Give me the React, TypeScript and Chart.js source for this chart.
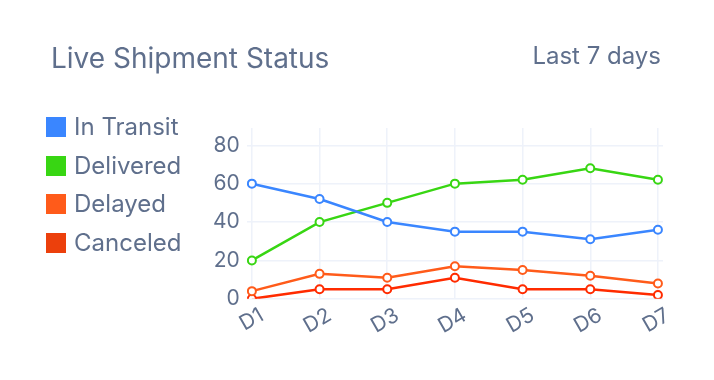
import React, { useEffect, useRef } from "react";
import { Chart, registerables } from "chart.js";

Chart.register(...registerables);

const categories = ["D1", "D2", "D3", "D4", "D5", "D6", "D7"];
const seriesNames = ["In Transit", "Delivered", "Delayed", "Canceled"];
const inTransit = [60, 52, 40, 35, 35, 31, 36];
const delivered = [20, 40, 50, 60, 62, 68, 62];
const delayed = [4, 13, 11, 17, 15, 12, 8];
const canceled = [0, 5, 5, 11, 5, 5, 2];
const lineColors = ["#3a86ff", "#38d613", "#ff5b1a", "#ff2b00"];
const legendColors = ["#3a86ff", "#38d613", "#ff5b1a", "#ec400c"];
const yTicks = [0, 20, 40, 60, 80];
const title = "Live Shipment Status";
const rangeLabel = "Last 7 days";

const TEXT = "#5f6f8c";
const FONT = "Inter, 'Noto Sans', sans-serif";

export default function App() {
  const ref = useRef<HTMLCanvasElement>(null);
  useEffect(() => {
    if (!ref.current) return;
    const all = [inTransit, delivered, delayed, canceled];
    const chart = new Chart(ref.current, {
      type: "line",
      data: {
        datasets: all.map((arr, i) => ({
          label: seriesNames[i],
          data: arr.map((v, j) => ({ x: j, y: v })),
          borderColor: lineColors[i],
          backgroundColor: "#ffffff",
          pointBackgroundColor: "#ffffff",
          pointBorderColor: lineColors[i],
          pointBorderWidth: 2,
          pointRadius: 4,
          borderWidth: 2.5,
          tension: 0,
        })),
      },
      options: {
        responsive: false,
        animation: false,
        layout: { padding: { left: 206, top: 128, right: 51, bottom: 37 } },
        plugins: { legend: { display: false }, tooltip: { enabled: false } },
        scales: {
          x: {
            type: "linear",
            min: -0.075,
            max: categories.length - 1 + 0.075,
            afterBuildTicks: (s: any) => {
              s.ticks = categories.map((_, i) => ({ value: i }));
            },
            ticks: {
              autoSkip: false,
              maxRotation: 30,
              minRotation: 30,
              labelOffset: 10,
              padding: 4,
              color: TEXT,
              font: { family: FONT, size: 21 },
              callback: (v: any) => categories[Math.round(Number(v))],
            },
            grid: { color: "#eef2fa", drawTicks: false, lineWidth: 1.5 },
            border: { display: false },
          },
          y: {
            min: 0,
            max: 89,
            afterBuildTicks: (s: any) => {
              s.ticks = yTicks.map((v) => ({ value: v }));
            },
            ticks: {
              padding: 7,
              color: TEXT,
              font: { family: FONT, size: 21 },
            },
            grid: { color: "#eef2fa", drawTicks: false, lineWidth: 1.5 },
            border: { display: false },
          },
        },
      },
    });
    return () => chart.destroy();
  }, []);

  return (
    <div
      style={{
        position: "absolute",
        left: 0,
        top: 0,
        width: 714,
        height: 380,
        background: "#ffffff",
        fontFamily: FONT,
        color: TEXT,
        overflow: "hidden",
      }}
    >
      <canvas ref={ref} width={714} height={380} style={{ position: "absolute", left: 0, top: 0 }} />
      <div style={{ position: "absolute", left: 51, top: 44, fontSize: 28, lineHeight: 1, whiteSpace: "nowrap" }}>
        {title}
      </div>
      <div style={{ position: "absolute", right: 53, top: 44, fontSize: 24, lineHeight: 1, whiteSpace: "nowrap" }}>
        {rangeLabel}
      </div>
      {seriesNames.map((name, i) => (
        <div
          key={name}
          style={{
            position: "absolute",
            left: 46,
            top: 117 + i * 38.7,
            height: 20,
            display: "flex",
            alignItems: "center",
            whiteSpace: "nowrap",
          }}
        >
          <div style={{ width: 20, height: 20, background: legendColors[i], marginRight: 8 }} />
          <span style={{ fontSize: 24, lineHeight: 1 }}>{name}</span>
        </div>
      ))}
    </div>
  );
}
